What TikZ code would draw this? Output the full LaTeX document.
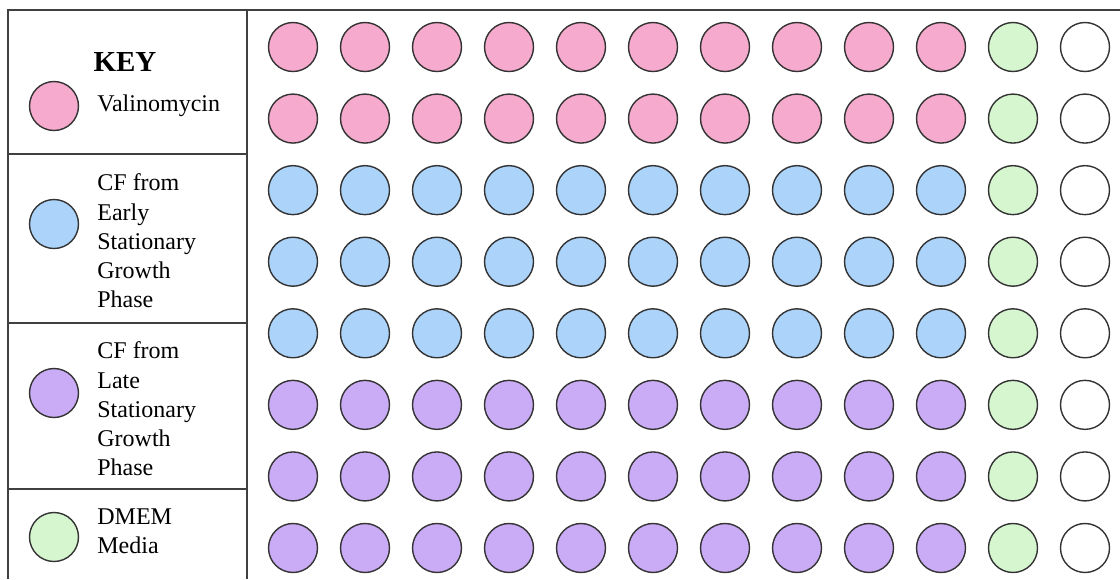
\documentclass[tikz,border=0pt]{standalone}
\usepackage{fontspec}
\setmainfont{Liberation Serif}
\usetikzlibrary{positioning}
\definecolor{valpink}{RGB}{245,170,206}
\definecolor{earlyblue}{RGB}{172,212,250}
\definecolor{latepurple}{RGB}{202,172,246}
\definecolor{dmemgreen}{RGB}{214,246,208}

\begin{document}
\begin{tikzpicture}[
    x=0.5pt, y=-0.5pt,
    well/.style={circle, draw=black!80, line width=0.7pt,
                 minimum size=24.5pt, inner sep=0pt},
    keytext/.style={anchor=west, align=left, inner sep=0pt,
                    font=\fontsize{12}{14.6}\selectfont},
    frame/.style={draw=black!75, line width=1pt}
]
  \useasboundingbox (0,0) rectangle (1120,579);
  % key frame
  \draw[frame] (8,579) -- (8,10) -- (1120,10);
  \draw[frame] (247,10) -- (247,579);
  \draw[frame] (8,154) -- (247,154);
  \draw[frame] (8,323) -- (247,323);
  \draw[frame] (8,489) -- (247,489);
  % key entries
  \node[font=\fontsize{14.5}{16}\selectfont\bfseries] (key) at (125,62) {KEY};
  \node[well, fill=valpink]    (kval)   at (54,106) {};
  \node[well, fill=earlyblue]  (kearly) at (54,224) {};
  \node[well, fill=latepurple] (klate)  at (54,393) {};
  \node[well, fill=dmemgreen]  (kdmem)  at (54,537) {};
  \node[keytext] (tval)   at (97,106) {Valinomycin};
  \node[keytext] (tearly) at (97,241) {CF from\\Early\\Stationary\\Growth\\Phase};
  \node[keytext] (tlate)  at (97,409) {CF from\\Late\\Stationary\\Growth\\Phase};
  \node[keytext] (tdmem)  at (97,531) {DMEM\\Media};
  % plate wells
  \foreach \row/\clr in {1/valpink, 2/valpink, 3/earlyblue, 4/earlyblue,
                         5/earlyblue, 6/latepurple, 7/latepurple, 8/latepurple} {
    \foreach \col in {1,...,10}
      \node[well, fill=\clr] (w-\row-\col) at ({293+72*(\col-1)}, {47+71.57*(\row-1)}) {};
    \node[well, fill=dmemgreen] (w-\row-11) at (1013, {47+71.57*(\row-1)}) {};
    \node[well, fill=white]     (w-\row-12) at (1085, {47+71.57*(\row-1)}) {};
  }
\end{tikzpicture}
\end{document}
